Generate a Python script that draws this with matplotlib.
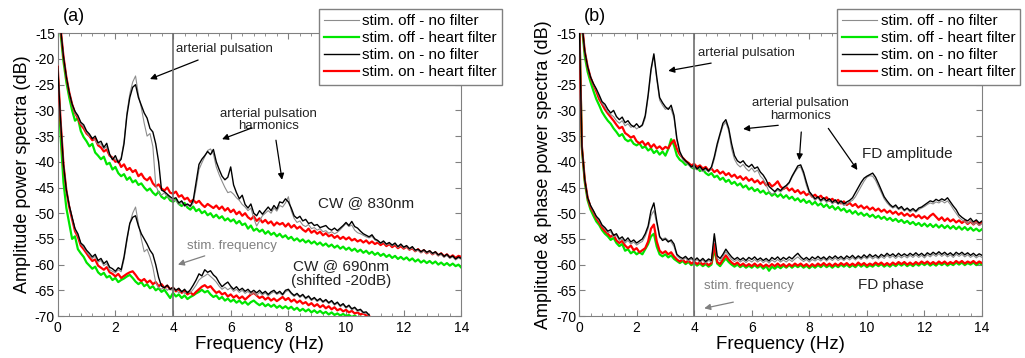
import numpy as np
import matplotlib
matplotlib.use('Agg')
from matplotlib import pyplot as plt
from matplotlib.ticker import MultipleLocator

plt.rcParams['font.family'] = ['Liberation Sans', 'DejaVu Sans']
plt.rcParams['axes.unicode_minus'] = False

# frequency grid (Hz), 0.1 Hz step; the 690 nm traces stop at 10.8 Hz
freq = np.round(np.arange(141) * 0.1, 1)
freq690 = freq[:109]

# ---- panel (a): CW @ 830nm ----
a830_off_nofilt = [-8.0, -14.0, -19.5, -23.5, -26.5, -29.0, -30.5, -31.3, -32.6, -33.2,
    -34.3, -35.0, -35.3, -35.8, -36.6, -36.5, -37.5, -37.0, -38.8, -39.3,
    -39.5, -40.0, -39.2, -36.0, -30.5, -26.8, -24.5, -23.3, -27.0, -29.5,
    -32.5, -35.0, -34.5, -37.0, -44.5, -46.0, -46.5, -46.0, -46.8, -47.2,
    -47.6, -47.5, -48.3, -47.9, -48.7, -48.4, -48.8, -48.0, -45.0, -41.5,
    -40.2, -39.0, -37.8, -37.5, -38.5, -41.0, -42.5, -43.8, -45.0, -46.0,
    -45.8, -46.3, -47.0, -47.5, -48.3, -48.8, -49.5, -49.0, -51.0, -52.5,
    -51.5, -50.5, -50.0, -49.5, -50.0, -49.0, -49.6, -48.5, -48.8, -48.0,
    -46.8, -49.5, -51.0, -51.8, -51.5, -52.3, -52.6, -52.2, -53.0, -52.8,
    -53.3, -53.0, -53.6, -53.4, -53.9, -53.6, -54.0, -53.7, -53.2, -52.6,
    -52.0, -52.6, -52.3, -53.3, -53.8, -54.0, -54.3, -54.6, -54.8, -54.5,
    -55.2, -55.5, -55.9, -55.6, -56.2, -55.9, -56.4, -56.0, -56.7, -56.2,
    -56.8, -56.5, -57.1, -56.7, -57.4, -57.2, -57.7, -57.3, -57.8, -57.5,
    -58.0, -57.7, -58.3, -58.0, -58.6, -58.2, -58.8, -58.5, -59.1, -58.7,
    -59.0]
a830_off_heart = [-9.0, -15.0, -20.5, -24.5, -27.5, -30.0, -32.0, -31.5, -34.0, -35.2,
    -36.0, -37.0, -36.5, -38.2, -38.8, -39.5, -39.0, -40.5, -40.2, -41.5,
    -41.0, -42.2, -42.8, -42.4, -43.5, -43.0, -44.0, -43.6, -44.5, -44.2,
    -45.0, -45.6, -45.2, -46.0, -46.5, -45.8, -46.8, -47.2, -46.6, -47.5,
    -47.8, -47.3, -48.2, -48.6, -48.0, -48.9, -49.3, -48.7, -49.6, -49.2,
    -50.0, -49.6, -50.4, -50.0, -50.8, -50.3, -51.0, -50.6, -51.4, -51.0,
    -51.6, -51.2, -52.0, -51.5, -52.3, -52.0, -53.0, -52.4, -53.4, -53.0,
    -53.6, -53.2, -54.0, -53.5, -54.2, -53.8, -54.5, -54.0, -54.7, -54.3,
    -55.0, -54.6, -55.3, -54.9, -55.5, -55.1, -55.7, -55.3, -55.9, -55.5,
    -56.1, -55.7, -56.3, -55.9, -56.5, -56.1, -56.7, -56.3, -56.9, -56.5,
    -57.1, -56.7, -57.3, -56.9, -57.5, -57.1, -57.7, -57.3, -57.9, -57.5,
    -58.1, -57.7, -58.3, -57.9, -58.5, -58.1, -58.7, -58.3, -58.9, -58.5,
    -59.0, -58.6, -59.2, -58.8, -59.4, -59.0, -59.6, -59.2, -59.7, -59.3,
    -59.8, -59.4, -60.0, -59.6, -60.1, -59.7, -60.2, -59.8, -60.3, -60.0,
    -60.6]
a830_on_nofilt = [-8.0, -14.0, -19.5, -23.5, -26.5, -28.8, -30.2, -31.0, -32.3, -32.8,
    -34.0, -34.6, -35.5, -35.0, -36.3, -36.0, -37.2, -36.4, -38.5, -39.6,
    -38.8, -40.2, -39.5, -36.5, -31.0, -27.5, -25.5, -25.0, -27.5, -29.0,
    -30.5, -31.5, -33.5, -34.2, -36.5, -40.0, -45.5, -45.8, -46.3, -46.8,
    -47.2, -47.0, -48.0, -47.6, -48.5, -48.2, -48.6, -47.5, -44.0, -40.5,
    -39.5, -38.8, -38.0, -38.6, -37.6, -40.0, -41.5, -42.8, -43.5, -43.0,
    -41.0, -44.5, -46.0, -47.2, -46.5, -48.3, -49.0, -48.2, -50.0, -50.5,
    -49.5, -50.2, -49.5, -48.8, -49.5, -48.5, -49.2, -47.8, -48.0, -47.2,
    -47.8, -49.0, -50.5, -51.0, -50.6, -51.5, -51.2, -52.0, -51.8, -52.4,
    -52.2, -52.8, -52.6, -52.4, -53.0, -53.3, -52.9, -53.4, -52.9, -52.4,
    -51.8, -52.4, -51.6, -52.6, -52.9, -53.5, -54.0, -54.3, -54.6, -54.2,
    -55.0, -55.3, -55.8, -55.4, -56.0, -55.7, -56.2, -55.8, -56.5, -56.0,
    -56.6, -56.3, -56.9, -56.5, -57.2, -57.0, -57.5, -57.1, -57.6, -57.3,
    -57.8, -57.5, -58.1, -57.8, -58.4, -58.0, -58.6, -58.3, -58.9, -58.5,
    -58.8]
a830_on_heart = [-8.0, -14.0, -19.5, -23.5, -26.5, -28.8, -30.5, -31.5, -32.8, -33.5,
    -34.5, -35.0, -35.8, -35.5, -36.8, -37.2, -38.0, -37.6, -38.8, -39.2,
    -40.0, -39.8, -41.0, -40.5, -41.6, -41.2, -42.0, -41.6, -42.8, -42.3,
    -43.2, -43.6, -43.0, -44.2, -44.8, -44.4, -45.2, -45.6, -45.0, -46.0,
    -46.2, -45.8, -46.8, -46.5, -47.3, -47.0, -47.8, -47.4, -48.0, -47.6,
    -48.3, -48.8, -48.2, -48.6, -49.0, -48.5, -49.2, -48.7, -49.5, -49.0,
    -49.8, -49.3, -50.2, -49.7, -50.5, -50.0, -50.8, -51.2, -50.6, -51.5,
    -51.0, -51.8, -51.3, -52.0, -51.6, -52.4, -51.8, -52.2, -51.9, -52.6,
    -52.0, -52.8, -52.3, -53.0, -52.6, -53.2, -53.6, -53.0, -53.8, -53.4,
    -54.0, -53.6, -54.3, -53.9, -54.5, -54.2, -54.8, -54.4, -55.0, -54.6,
    -55.1, -54.7, -55.3, -55.0, -55.5, -55.2, -55.7, -55.3, -55.9, -55.5,
    -56.0, -55.7, -56.2, -55.8, -56.4, -56.0, -56.6, -56.2, -56.8, -56.4,
    -56.9, -56.5, -57.1, -56.8, -57.4, -57.0, -57.6, -57.2, -57.8, -57.4,
    -58.0, -57.6, -58.2, -57.8, -58.4, -58.0, -58.6, -58.2, -58.7, -58.3,
    -58.5]

# ---- panel (a): CW @ 690nm, shifted -20 dB ----
a690_off_nofilt = [-21.5, -32.0, -40.5, -45.5, -48.5, -51.0, -53.2, -54.3, -56.0, -56.6,
    -57.5, -58.2, -58.8, -58.4, -59.5, -59.2, -60.2, -59.8, -61.0, -61.3,
    -61.6, -61.0, -61.4, -59.0, -55.5, -52.0, -50.0, -48.8, -52.0, -55.0,
    -57.5, -57.0, -58.5, -60.5, -63.5, -64.5, -64.8, -64.3, -65.0, -64.6,
    -65.2, -64.8, -65.5, -65.1, -65.6, -65.2, -65.5, -64.8, -64.0, -63.0,
    -62.5, -62.2, -61.8, -62.3, -62.8, -63.4, -64.2, -64.8, -64.4, -64.9,
    -64.5, -65.2, -64.8, -65.4, -65.0, -65.6, -65.2, -65.8, -65.4, -66.0,
    -65.4, -65.9, -65.5, -66.1, -65.6, -65.3, -65.8, -65.5, -66.0, -65.3,
    -65.0, -65.7, -66.2, -65.8, -66.4, -66.0, -66.7, -66.3, -67.0, -66.6,
    -67.2, -66.8, -67.4, -67.0, -67.6, -67.2, -67.9, -67.5, -68.2, -67.8,
    -68.5, -68.1, -68.8, -68.5, -69.1, -68.9, -69.5, -69.4, -70.0]
a690_off_heart = [-22.5, -35.0, -44.0, -49.0, -52.0, -55.0, -54.5, -57.0, -57.8, -58.5,
    -59.6, -60.2, -60.8, -60.4, -61.5, -62.0, -61.6, -62.5, -62.2, -63.0,
    -62.6, -63.4, -63.0, -62.7, -62.3, -62.0, -62.6, -63.3, -63.8, -63.4,
    -64.2, -63.8, -64.6, -64.2, -65.0, -64.6, -65.3, -64.9, -65.7, -66.5,
    -65.5, -66.2, -65.8, -66.5, -66.0, -66.7, -66.3, -66.0, -65.6, -65.3,
    -64.9, -65.4, -65.1, -65.8, -66.3, -66.0, -66.7, -66.3, -67.0, -66.6,
    -67.2, -66.8, -67.4, -67.0, -67.6, -67.2, -67.8, -67.3, -67.0, -67.5,
    -67.9, -67.5, -68.1, -67.7, -68.2, -67.8, -68.4, -68.0, -68.5, -68.1,
    -68.6, -68.2, -68.8, -68.4, -69.0, -68.6, -69.1, -68.7, -69.3, -68.9,
    -69.4, -69.0, -69.5, -69.2, -69.7, -69.3, -69.8, -69.5, -69.9, -69.6,
    -70.0, -69.8, -70.2, -69.9, -70.3, -70.1, -70.4, -70.2, -70.5]
a690_on_nofilt = [-21.5, -32.0, -40.5, -45.5, -48.5, -50.8, -53.0, -54.0, -55.8, -56.3,
    -57.2, -57.8, -58.5, -58.0, -59.2, -58.8, -59.8, -59.3, -60.5, -60.8,
    -61.3, -60.6, -61.0, -58.5, -55.0, -52.0, -50.8, -50.5, -52.5, -54.0,
    -55.0, -56.0, -57.2, -58.0, -60.0, -62.5, -64.2, -64.5, -64.0, -64.8,
    -64.4, -65.0, -64.6, -65.3, -64.8, -65.5, -64.9, -64.0, -63.0, -61.8,
    -62.2, -61.0, -61.5, -61.2, -62.0, -62.5, -63.5, -64.3, -63.8, -63.4,
    -64.2, -64.8, -64.3, -65.0, -64.6, -65.2, -64.8, -65.4, -65.0, -65.5,
    -65.0, -65.6, -65.2, -65.8, -65.3, -65.0, -65.6, -65.2, -65.8, -65.0,
    -64.8, -65.5, -66.0, -65.6, -66.2, -65.8, -66.5, -66.1, -66.8, -66.4,
    -67.0, -66.6, -67.2, -66.8, -67.4, -67.0, -67.7, -67.3, -68.0, -67.6,
    -68.3, -67.9, -68.6, -68.3, -68.9, -68.7, -69.3, -69.2, -69.8]
a690_on_heart = [-21.5, -32.0, -40.5, -45.5, -48.8, -51.2, -53.5, -54.6, -56.3, -57.0,
    -57.8, -58.6, -59.3, -59.0, -60.2, -60.6, -61.0, -60.5, -61.5, -61.8,
    -62.3, -61.8, -62.6, -62.2, -61.8, -61.5, -61.3, -62.0, -62.8, -63.2,
    -62.8, -63.5, -63.1, -63.8, -63.4, -64.2, -63.8, -64.5, -64.1, -64.8,
    -64.5, -65.2, -64.8, -65.5, -65.1, -65.8, -65.4, -65.9, -65.3, -64.8,
    -64.3, -64.0, -64.5, -64.2, -64.9, -65.5, -65.2, -65.8, -65.5, -66.2,
    -65.8, -66.4, -66.0, -66.6, -66.2, -66.8, -66.3, -65.8, -65.5, -66.0,
    -66.5, -66.2, -66.8, -66.4, -67.0, -66.6, -67.1, -66.7, -66.3, -66.9,
    -66.5, -67.2, -66.8, -67.4, -67.0, -67.6, -67.3, -67.9, -67.5, -68.1,
    -67.7, -68.3, -67.9, -68.5, -68.1, -68.7, -68.3, -68.9, -68.6, -69.1,
    -68.8, -69.3, -69.0, -69.5, -69.3, -69.7, -69.5, -69.9, -70.0]

# ---- panel (b): FD amplitude ----
b_amp_off_nofilt = [-5.0, -13.0, -18.5, -21.5, -23.5, -25.0, -26.0, -27.3, -28.6, -29.3,
    -30.3, -30.8, -31.2, -32.0, -32.5, -32.0, -33.0, -32.6, -33.3, -33.0,
    -33.6, -33.2, -33.0, -31.5, -27.5, -22.5, -19.3, -24.0, -28.0, -29.0,
    -29.8, -29.5, -29.8, -31.5, -36.0, -38.3, -39.5, -40.2, -40.6, -41.2,
    -40.8, -41.6, -41.2, -41.9, -41.5, -42.0, -41.3, -39.5, -37.0, -34.8,
    -33.0, -32.3, -34.0, -37.5, -39.5, -40.5, -41.0, -40.5, -41.3, -41.8,
    -41.2, -42.0, -41.6, -42.8, -43.4, -44.5, -45.8, -46.3, -46.0, -45.5,
    -45.9, -45.3, -44.8, -44.2, -43.0, -42.0, -41.2, -41.0, -42.5, -44.6,
    -46.2, -46.8, -47.5, -47.0, -47.8, -47.3, -47.9, -47.5, -48.2, -47.7,
    -48.3, -47.9, -48.5, -48.2, -47.8, -47.5, -46.8, -45.8, -44.8, -43.8,
    -43.0, -42.7, -42.8, -43.6, -44.8, -46.0, -47.2, -48.0, -48.6, -49.0,
    -48.7, -49.3, -49.0, -49.6, -49.2, -49.8, -49.4, -49.8, -49.3, -49.0,
    -48.7, -48.3, -48.0, -48.2, -47.8, -48.0, -47.6, -48.0, -47.6, -48.3,
    -49.2, -50.0, -50.8, -51.3, -51.6, -52.0, -51.5, -52.2, -51.8, -52.4,
    -52.0]
b_amp_off_heart = [-5.0, -13.5, -19.5, -22.5, -24.5, -26.2, -27.8, -29.0, -30.3, -31.2,
    -32.0, -32.6, -33.5, -34.2, -35.0, -34.6, -35.6, -36.0, -35.7, -36.5,
    -36.8, -36.4, -37.3, -37.0, -37.8, -37.4, -38.3, -37.8, -38.6, -38.0,
    -38.8, -37.5, -35.6, -36.8, -38.8, -39.6, -40.0, -40.6, -40.3, -41.0,
    -41.4, -41.0, -41.8, -41.5, -42.2, -42.6, -42.2, -43.0, -42.7, -43.5,
    -43.1, -43.9, -43.5, -44.3, -43.9, -44.6, -44.2, -45.0, -44.6, -45.4,
    -45.0, -45.7, -45.3, -46.0, -45.6, -46.3, -45.9, -46.6, -46.2, -46.8,
    -46.3, -47.0, -46.5, -47.2, -46.8, -47.5, -47.1, -47.8, -47.3, -48.0,
    -47.6, -48.3, -47.8, -48.5, -48.1, -48.8, -48.3, -49.0, -48.6, -49.3,
    -48.8, -49.5, -49.1, -49.8, -49.4, -50.1, -49.6, -50.3, -49.9, -50.5,
    -50.1, -50.7, -50.3, -50.9, -50.5, -51.1, -50.7, -51.3, -50.9, -51.5,
    -51.1, -51.7, -51.3, -51.9, -51.5, -52.1, -51.7, -52.3, -51.9, -52.5,
    -52.0, -52.6, -52.1, -52.7, -52.2, -52.8, -52.3, -52.9, -52.4, -53.0,
    -52.5, -53.1, -52.6, -53.2, -52.7, -53.3, -52.8, -53.4, -53.0, -53.5,
    -53.1]
b_amp_on_nofilt = [-5.0, -13.0, -18.5, -21.5, -23.5, -24.8, -25.8, -27.0, -28.3, -28.8,
    -29.8, -30.5, -30.0, -31.2, -31.8, -31.3, -32.4, -32.0, -32.8, -33.2,
    -32.6, -33.3, -32.8, -31.0, -27.0, -22.0, -19.0, -23.5, -27.5, -28.5,
    -29.3, -29.8, -29.0, -31.0, -35.5, -38.0, -39.2, -39.8, -40.3, -41.0,
    -40.6, -41.4, -40.9, -41.6, -41.2, -41.8, -41.0, -39.0, -36.5, -34.5,
    -32.5, -31.8, -33.5, -36.5, -38.8, -39.8, -40.2, -39.8, -40.6, -41.0,
    -40.5, -41.3, -41.0, -42.0, -42.6, -43.5, -44.8, -45.3, -45.8, -45.2,
    -45.6, -45.0, -44.6, -44.0, -42.8, -41.8, -40.8, -40.6, -42.0, -44.0,
    -45.8, -46.5, -47.2, -46.8, -47.5, -47.0, -47.6, -47.2, -47.9, -47.4,
    -48.1, -47.6, -48.2, -47.8, -47.5, -47.0, -46.0, -45.0, -44.0, -43.2,
    -42.8, -42.5, -42.2, -43.0, -44.2, -45.5, -46.8, -47.6, -48.3, -48.8,
    -48.4, -49.1, -48.7, -49.4, -49.0, -49.5, -49.1, -49.6, -49.0, -48.8,
    -48.4, -48.0, -47.6, -47.8, -47.3, -47.6, -47.2, -47.5, -47.0, -47.8,
    -48.6, -49.3, -50.3, -50.8, -51.2, -51.5, -51.0, -51.7, -51.3, -51.9,
    -51.5]
b_amp_on_heart = [-5.0, -13.0, -18.5, -21.5, -23.6, -25.0, -26.3, -27.8, -28.8, -29.8,
    -30.6, -31.3, -32.0, -32.8, -33.5, -33.2, -34.4, -34.8, -35.3, -35.0,
    -36.0, -36.4, -36.0, -36.8, -36.3, -37.2, -36.6, -37.4, -37.0, -37.6,
    -37.1, -37.4, -36.4, -35.8, -37.5, -38.6, -39.2, -39.8, -40.2, -40.7,
    -40.4, -41.0, -40.7, -41.3, -41.0, -41.7, -41.3, -42.0, -41.6, -42.3,
    -41.9, -42.6, -42.2, -42.9, -42.5, -43.2, -42.8, -43.5, -43.0, -43.7,
    -43.3, -44.0, -43.6, -44.3, -43.8, -44.6, -44.1, -44.8, -44.4, -43.8,
    -44.8, -45.3, -44.9, -45.6, -45.2, -45.9, -45.5, -46.2, -45.8, -46.5,
    -46.1, -46.8, -46.4, -47.0, -46.6, -47.3, -46.9, -47.6, -47.2, -47.8,
    -47.4, -48.1, -47.7, -48.4, -48.0, -48.6, -48.2, -48.9, -48.5, -49.1,
    -48.7, -49.3, -48.9, -49.5, -49.1, -49.7, -49.3, -49.9, -49.5, -50.1,
    -49.7, -50.3, -49.9, -50.5, -50.1, -50.6, -50.2, -50.8, -50.4, -51.0,
    -50.6, -51.1, -50.5, -50.1, -50.7, -51.3, -50.8, -51.5, -51.0, -51.6,
    -51.2, -51.8, -51.4, -51.9, -51.5, -52.1, -51.6, -52.2, -51.7, -52.3,
    -51.8]

# ---- panel (b): FD phase ----
b_ph_off_nofilt = [-10.0, -37.0, -43.5, -47.0, -48.6, -49.7, -50.8, -51.5, -52.5, -53.0,
    -53.8, -53.6, -54.6, -54.3, -55.3, -55.0, -55.8, -55.3, -56.0, -55.6,
    -56.2, -55.8, -55.5, -54.5, -53.0, -50.5, -49.5, -52.0, -54.8, -55.0,
    -54.8, -55.3, -55.6, -56.5, -58.3, -58.8, -59.1, -58.7, -59.3, -58.9,
    -59.5, -59.0, -59.6, -59.1, -59.7, -59.2, -59.5, -54.5, -58.8, -59.3,
    -58.4, -57.5, -58.3, -59.0, -59.4, -59.0, -59.5, -59.1, -59.6, -59.1,
    -59.5, -59.0, -59.5, -59.1, -59.6, -59.2, -59.7, -59.1, -59.5, -59.0,
    -59.5, -59.1, -59.5, -59.0, -59.4, -58.9, -58.5, -59.0, -59.4, -59.0,
    -59.5, -59.0, -59.3, -58.9, -59.3, -58.8, -59.3, -58.8, -59.2, -58.7,
    -59.2, -58.8, -59.2, -58.7, -59.1, -58.6, -59.1, -58.6, -59.0, -58.5,
    -58.9, -58.4, -58.9, -58.5, -58.9, -58.4, -58.8, -58.2, -58.7, -58.3,
    -58.8, -58.3, -58.7, -58.3, -58.7, -58.2, -58.6, -58.1, -58.6, -58.2,
    -58.7, -58.1, -58.5, -58.0, -58.4, -57.9, -58.4, -58.0, -58.5, -58.1,
    -58.6, -58.0, -58.4, -58.0, -58.5, -58.1, -58.6, -58.2, -58.7, -58.3,
    -58.6]
b_ph_off_heart = [-10.0, -37.5, -44.0, -47.5, -49.3, -50.5, -51.6, -52.3, -53.3, -54.0,
    -54.5, -55.2, -54.8, -55.8, -56.4, -56.0, -57.3, -57.0, -57.8, -57.4,
    -58.0, -57.6, -58.0, -57.0, -56.0, -54.5, -54.0, -56.5, -58.0, -58.4,
    -58.0, -58.6, -58.2, -58.9, -59.3, -59.7, -59.3, -59.9, -59.5, -60.1,
    -59.7, -60.2, -59.8, -60.3, -59.9, -60.4, -60.0, -57.0, -59.8, -60.3,
    -59.5, -58.8, -59.5, -60.0, -60.4, -60.0, -60.5, -60.1, -60.6, -60.2,
    -60.6, -60.1, -60.6, -60.2, -60.8, -60.3, -61.2, -60.4, -60.8, -60.3,
    -60.7, -60.2, -60.6, -60.1, -60.6, -60.1, -60.5, -60.1, -60.6, -60.2,
    -60.7, -60.2, -60.6, -60.1, -60.5, -60.0, -60.5, -60.1, -60.6, -60.1,
    -60.5, -60.0, -60.4, -60.0, -60.5, -60.1, -60.5, -59.9, -60.4, -60.0,
    -60.5, -60.1, -60.4, -59.9, -60.3, -59.9, -60.4, -60.0, -60.4, -59.9,
    -60.3, -59.8, -60.2, -59.8, -60.3, -59.9, -60.3, -59.8, -60.2, -59.7,
    -60.1, -59.7, -60.2, -59.8, -60.2, -59.7, -60.1, -59.7, -60.2, -59.8,
    -60.1, -59.6, -60.0, -59.6, -60.1, -59.7, -60.0, -59.6, -60.1, -59.7,
    -60.0]
b_ph_on_nofilt = [-10.0, -37.0, -43.5, -47.0, -48.5, -49.5, -50.6, -51.2, -52.3, -52.8,
    -53.5, -53.2, -54.3, -54.0, -55.0, -54.6, -55.4, -54.8, -55.6, -55.2,
    -55.8, -55.4, -55.0, -54.0, -52.5, -49.5, -48.0, -51.5, -54.5, -55.3,
    -55.0, -55.6, -55.2, -56.0, -58.0, -58.5, -58.8, -58.4, -59.0, -58.6,
    -59.2, -58.7, -59.3, -58.8, -59.4, -58.9, -59.2, -54.0, -58.3, -58.8,
    -58.0, -57.0, -57.8, -58.5, -59.0, -58.6, -59.1, -58.7, -59.2, -58.6,
    -59.0, -58.5, -59.1, -58.7, -59.2, -58.8, -59.3, -58.6, -59.0, -58.5,
    -59.1, -58.6, -59.0, -58.5, -58.9, -58.3, -57.8, -58.5, -59.0, -58.6,
    -59.1, -58.5, -58.9, -58.4, -58.9, -58.5, -59.0, -58.4, -58.8, -58.3,
    -58.8, -58.4, -58.9, -58.3, -58.7, -58.2, -58.8, -58.3, -58.7, -58.1,
    -58.6, -58.0, -58.5, -58.1, -58.6, -58.0, -58.4, -57.8, -58.3, -57.9,
    -58.4, -57.8, -58.3, -57.9, -58.3, -57.8, -58.2, -57.7, -58.2, -57.8,
    -58.3, -57.7, -58.1, -57.6, -58.0, -57.5, -58.0, -57.6, -58.1, -57.7,
    -58.2, -57.6, -58.0, -57.6, -58.1, -57.7, -58.2, -57.8, -58.3, -57.9,
    -58.2]
b_ph_on_heart = [-10.0, -37.0, -43.5, -47.0, -48.8, -49.8, -51.0, -51.8, -52.8, -53.5,
    -54.0, -54.6, -54.2, -55.3, -55.8, -55.4, -56.3, -56.8, -56.3, -57.2,
    -56.8, -57.6, -57.2, -56.8, -55.5, -53.0, -52.2, -55.5, -57.3, -57.8,
    -57.4, -58.0, -57.6, -58.4, -59.0, -59.4, -59.0, -59.6, -59.2, -59.8,
    -59.4, -59.9, -59.5, -60.0, -59.6, -60.1, -59.7, -56.0, -59.5, -59.9,
    -59.0, -58.2, -59.0, -59.6, -60.0, -59.6, -60.2, -59.8, -60.3, -59.9,
    -60.3, -59.8, -60.3, -59.9, -60.4, -60.0, -60.4, -59.9, -60.3, -59.8,
    -60.3, -59.9, -60.4, -59.9, -60.3, -59.8, -60.2, -59.8, -60.3, -59.9,
    -60.4, -59.9, -60.3, -59.8, -60.2, -59.7, -60.2, -59.8, -60.3, -59.8,
    -60.2, -59.7, -60.1, -59.7, -60.2, -59.8, -60.2, -59.6, -60.1, -59.7,
    -60.2, -59.8, -60.1, -59.6, -60.0, -59.6, -60.1, -59.7, -60.1, -59.6,
    -60.0, -59.5, -59.9, -59.5, -60.0, -59.6, -60.0, -59.5, -59.9, -59.4,
    -59.8, -59.4, -59.9, -59.5, -59.9, -59.4, -59.8, -59.4, -59.9, -59.5,
    -59.8, -59.3, -59.7, -59.3, -59.8, -59.4, -59.7, -59.3, -59.8, -59.4,
    -59.7]

labels = ['stim. off - no filter', 'stim. off - heart filter',
          'stim. on - no filter', 'stim. on - heart filter']
colors = ['#8c8c8c', '#00e600', '#000000', '#ff0000']
widths = [0.8, 1.6, 1.0, 1.6]
zorders = [4, 2, 5, 3]


def draw_group(ax, x, series):
    lines = []
    for y, c, w, z in zip(series, colors, widths, zorders):
        ln, = ax.plot(x, y, color=c, lw=w, zorder=z)
        lines.append(ln)
    return lines


def style(ax, ylabel, tag):
    ax.set_xlim(0, 14)
    ax.set_ylim(-70, -15)
    ax.xaxis.set_major_locator(MultipleLocator(2))
    ax.xaxis.set_minor_locator(MultipleLocator(0.4))
    ax.yaxis.set_major_locator(MultipleLocator(5))
    ax.tick_params(which='both', direction='in', top=True, right=True,
                   color='#808080', labelsize=10)
    ax.tick_params(which='major', length=4)
    ax.tick_params(which='minor', length=2.5)
    ax.tick_params(axis='y', pad=2)
    ax.tick_params(axis='x', pad=3.5)
    for s in ax.spines.values():
        s.set_color('#808080')
    ax.axvline(4, color='#6e6e6e', lw=1.2, zorder=6)
    ax.set_xlabel('Frequency (Hz)', fontsize=13.5, labelpad=1)
    ax.set_ylabel(ylabel, fontsize=13, labelpad=3)
    ax.text(0.013, 1.058, tag, transform=ax.transAxes, fontsize=13, va='center')


def arrow(ax, tail, head, color='k'):
    ax.annotate('', xy=head, xytext=tail,
                arrowprops=dict(arrowstyle='-|>', color=color, lw=0.9,
                                mutation_scale=9, shrinkA=0, shrinkB=0))


def legend(ax, handles, x0):
    leg = ax.legend(handles, labels, loc='upper left', bbox_to_anchor=(x0, 1.086),
                    borderaxespad=0, fontsize=11, fancybox=False, framealpha=1,
                    edgecolor='#808080', handlelength=2.3, handletextpad=0.2,
                    labelspacing=0.2, borderpad=0.35)
    leg.get_frame().set_linewidth(1.0)
    leg.set_zorder(10)


fig = plt.figure(figsize=(10.25, 3.58), dpi=100)
ax1 = fig.add_axes([0.0563, 0.1173, 0.3938, 0.7897])
ax2 = fig.add_axes([0.5649, 0.1173, 0.3932, 0.7897])

# panel (a)
h = draw_group(ax1, freq, [a830_off_nofilt, a830_off_heart, a830_on_nofilt, a830_on_heart])
draw_group(ax1, freq690, [a690_off_nofilt, a690_off_heart, a690_on_nofilt, a690_on_heart])
style(ax1, 'Amplitude power spectra (dB)', '(a)')
legend(ax1, h, 0.647)

tc = '#222222'
ax1.text(5.77, -18.1, 'arterial pulsation', ha='center', va='center', fontsize=9.5, color=tc)
arrow(ax1, (4.87, -20.2), (3.2, -23.9))
ax1.text(7.3, -31.9, 'arterial pulsation\nharmonics', ha='center', va='center',
         fontsize=9.5, color=tc, linespacing=1.05)
arrow(ax1, (6.74, -33.4), (5.7, -35.6))
arrow(ax1, (7.57, -35.8), (7.78, -43.5))
ax1.text(10.7, -48.0, 'CW @ 830nm', ha='center', va='center', fontsize=11, color=tc)
ax1.text(9.83, -61.8, 'CW @ 690nm\n(shifted -20dB)', ha='center', va='center',
         fontsize=11, color=tc, linespacing=1.1)
ax1.text(6.05, -56.4, 'stim. frequency', ha='center', va='center', fontsize=9.5, color='#808080')
arrow(ax1, (5.1, -58.3), (4.17, -60.0), color='#808080')

# panel (b)
h = draw_group(ax2, freq, [b_amp_off_nofilt, b_amp_off_heart, b_amp_on_nofilt, b_amp_on_heart])
draw_group(ax2, freq, [b_ph_off_nofilt, b_ph_off_heart, b_ph_on_nofilt, b_ph_on_heart])
style(ax2, 'Amplitude & phase power spectra (dB)', '(b)')
legend(ax2, h, 0.640)

ax2.text(5.8, -18.8, 'arterial pulsation', ha='center', va='center', fontsize=9.5, color=tc)
arrow(ax2, (4.59, -20.8), (3.1, -22.3))
ax2.text(7.69, -29.8, 'arterial pulsation\nharmonics', ha='center', va='center',
         fontsize=9.5, color=tc, linespacing=1.05)
arrow(ax2, (6.92, -32.9), (5.7, -33.6))
arrow(ax2, (7.72, -34.2), (7.65, -39.7))
arrow(ax2, (8.66, -33.5), (9.67, -41.6))
ax2.text(11.39, -38.5, 'FD amplitude', ha='center', va='center', fontsize=11, color=tc)
ax2.text(10.85, -64.0, 'FD phase', ha='center', va='center', fontsize=11, color=tc)
ax2.text(5.9, -64.2, 'stim. frequency', ha='center', va='center', fontsize=9.5, color='#808080')
arrow(ax2, (5.36, -67.3), (4.35, -68.5), color='#808080')

fig.savefig('out.png', dpi=100)
